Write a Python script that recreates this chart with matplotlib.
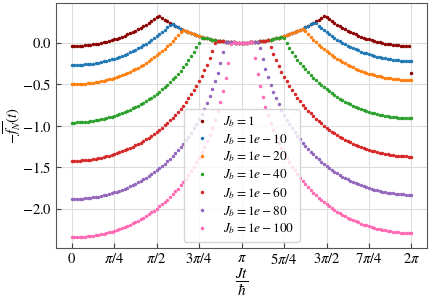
import matplotlib
matplotlib.use("Agg")
import matplotlib.pyplot as plt
import numpy as np

plt.rcParams.update({
    "font.family": ["Liberation Serif", "DejaVu Serif"],
    "mathtext.fontset": "stix",
})

# time grid: 129 samples over [0, 2pi]
t = np.arange(129) * np.pi / 64

labels = ["$J_b=1$", "$J_b=1e-10$", "$J_b=1e-20$", "$J_b=1e-40$",
          "$J_b=1e-60$", "$J_b=1e-80$", "$J_b=1e-100$"]
colors = ["darkred", "tab:blue", "tab:orange", "tab:green",
          "tab:red", "tab:purple", "hotpink"]

xtick_labels = ["$0$", r"$\pi/4$", r"$\pi/2$", r"$3\pi/4$", r"$\pi$",
                r"$5\pi/4$", r"$3\pi/2$", r"$7\pi/4$", r"$2\pi$"]
ytick_values = [0.0, -0.5, -1.0, -1.5, -2.0]

# shared descending/ascending part around t = pi (samples 32..96)
envelope = [0.347, 0.323, 0.300, 0.278, 0.257, 0.238, 0.219, 0.201, 0.185, 0.169,
            0.153, 0.139, 0.126, 0.113, 0.101, 0.090, 0.079, 0.069, 0.061, 0.053,
            0.044, 0.037, 0.030, 0.025, 0.019, 0.015, 0.011, 0.008, 0.005, 0.003,
            0.001, 0.000, 0.000, 0.000, 0.001, 0.003, 0.005, 0.008, 0.011, 0.015,
            0.019, 0.025, 0.030, 0.037, 0.044, 0.053, 0.061, 0.069, 0.079, 0.090,
            0.101, 0.113, 0.126, 0.139, 0.153, 0.169, 0.185, 0.201, 0.219, 0.238,
            0.257, 0.278, 0.300, 0.323, 0.347]

# left branches (from t = 0 up to the cusp)
jb1_left = [-0.040, -0.040, -0.039, -0.037, -0.035, -0.032, -0.029, -0.025, -0.021, -0.015,
            -0.010, -0.003, 0.004, 0.013, 0.021, 0.029, 0.039, 0.050, 0.061, 0.073,
            0.086, 0.099, 0.113, 0.129, 0.145, 0.161, 0.179, 0.198, 0.217, 0.238,
            0.260, 0.283, 0.307]
jb10_left = [-0.270, -0.270, -0.269, -0.267, -0.265, -0.262, -0.259, -0.255, -0.251, -0.245,
             -0.240, -0.233, -0.226, -0.217, -0.209, -0.201, -0.191, -0.180, -0.169, -0.157,
             -0.144, -0.131, -0.117, -0.101, -0.085, -0.069, -0.051, -0.032, -0.013, 0.008,
             0.030, 0.053, 0.077, 0.102, 0.128, 0.156, 0.185, 0.216]
jb20_left = [-0.501, -0.501, -0.500, -0.498, -0.496, -0.493, -0.490, -0.486, -0.482, -0.476,
             -0.471, -0.464, -0.457, -0.448, -0.440, -0.432, -0.422, -0.411, -0.400, -0.388,
             -0.375, -0.362, -0.348, -0.332, -0.316, -0.300, -0.282, -0.263, -0.244, -0.223,
             -0.201, -0.178, -0.154, -0.129, -0.103, -0.075, -0.046, -0.015, 0.017, 0.051,
             0.087, 0.124]
jb40_left = [-0.961, -0.961, -0.960, -0.958, -0.956, -0.953, -0.950, -0.946, -0.942, -0.936,
             -0.931, -0.924, -0.917, -0.908, -0.900, -0.892, -0.882, -0.871, -0.860, -0.848,
             -0.835, -0.822, -0.808, -0.792, -0.776, -0.760, -0.742, -0.723, -0.704, -0.683,
             -0.661, -0.638, -0.614, -0.589, -0.563, -0.535, -0.506, -0.475, -0.443, -0.409,
             -0.373, -0.336, -0.296, -0.254, -0.209, -0.162, -0.111, -0.058, 0.000, 0.061]
jb60_left = [-1.422, -1.422, -1.421, -1.419, -1.417, -1.414, -1.411, -1.407, -1.403, -1.397,
             -1.392, -1.385, -1.378, -1.369, -1.361, -1.353, -1.343, -1.332, -1.321, -1.309,
             -1.296, -1.283, -1.269, -1.253, -1.237, -1.221, -1.203, -1.184, -1.165, -1.144,
             -1.122, -1.099, -1.075, -1.050, -1.024, -0.996, -0.967, -0.936, -0.904, -0.870,
             -0.834, -0.797, -0.757, -0.715, -0.670, -0.623, -0.572, -0.519, -0.461, -0.400,
             -0.334, -0.263, -0.185, -0.100, -0.007]
jb80_left = [-1.882, -1.882, -1.881, -1.879, -1.877, -1.874, -1.871, -1.867, -1.863, -1.857,
             -1.852, -1.845, -1.838, -1.829, -1.821, -1.813, -1.803, -1.792, -1.781, -1.769,
             -1.756, -1.743, -1.729, -1.713, -1.697, -1.681, -1.663, -1.644, -1.625, -1.604,
             -1.582, -1.559, -1.535, -1.510, -1.484, -1.456, -1.427, -1.396, -1.364, -1.330,
             -1.294, -1.257, -1.217, -1.175, -1.130, -1.083, -1.032, -0.979, -0.921, -0.860,
             -0.794, -0.723, -0.645, -0.560, -0.467, -0.364, -0.248, -0.116]
jb100_left = [-2.343, -2.343, -2.342, -2.340, -2.338, -2.335, -2.332, -2.328, -2.324, -2.318,
              -2.313, -2.306, -2.299, -2.290, -2.282, -2.274, -2.264, -2.253, -2.242, -2.230,
              -2.217, -2.204, -2.190, -2.174, -2.158, -2.142, -2.124, -2.105, -2.086, -2.065,
              -2.043, -2.020, -1.996, -1.971, -1.945, -1.917, -1.888, -1.857, -1.825, -1.791,
              -1.755, -1.718, -1.678, -1.636, -1.591, -1.544, -1.493, -1.440, -1.382, -1.321,
              -1.255, -1.184, -1.106, -1.021, -0.928, -0.825, -0.709, -0.577, -0.424, -0.243,
              -0.020]

# right branches (from the cusp up to t = 2pi)
jb1_right = [0.307, 0.283, 0.260, 0.238, 0.217, 0.198, 0.179, 0.161, 0.145, 0.129,
             0.113, 0.099, 0.086, 0.073, 0.061, 0.050, 0.039, 0.029, 0.021, 0.013,
             0.004, -0.003, -0.010, -0.015, -0.021, -0.025, -0.029, -0.032, -0.035, -0.037,
             -0.039, -0.040, -0.360]
jb10_right = [0.235, 0.206, 0.178, 0.152, 0.127, 0.103, 0.080, 0.058, 0.037, 0.018,
              -0.001, -0.019, -0.035, -0.051, -0.067, -0.081, -0.094, -0.107, -0.119, -0.130,
              -0.141, -0.151, -0.159, -0.167, -0.176, -0.183, -0.190, -0.195, -0.201, -0.205,
              -0.209, -0.212, -0.215, -0.217, -0.219, -0.220, -0.220]
jb20_right = [0.138, 0.102, 0.068, 0.036, 0.005, -0.024, -0.052, -0.078, -0.103, -0.127,
              -0.150, -0.172, -0.193, -0.212, -0.231, -0.249, -0.265, -0.281, -0.297, -0.311,
              -0.324, -0.337, -0.349, -0.360, -0.371, -0.381, -0.389, -0.397, -0.406, -0.413,
              -0.420, -0.425, -0.431, -0.435, -0.439, -0.442, -0.445, -0.447, -0.449, -0.450,
              -0.450]
jb40_right = [0.051, -0.007, -0.060, -0.111, -0.158, -0.203, -0.245, -0.285, -0.322, -0.358,
              -0.392, -0.424, -0.455, -0.484, -0.512, -0.538, -0.563, -0.587, -0.610, -0.632,
              -0.653, -0.672, -0.691, -0.709, -0.725, -0.741, -0.757, -0.771, -0.784, -0.797,
              -0.809, -0.820, -0.831, -0.841, -0.849, -0.857, -0.866, -0.873, -0.880, -0.885,
              -0.891, -0.895, -0.899, -0.902, -0.905, -0.907, -0.909, -0.910, -0.910]
jb60_right = [-0.048, -0.133, -0.211, -0.282, -0.348, -0.409, -0.467, -0.520, -0.571, -0.618,
              -0.663, -0.705, -0.745, -0.782, -0.818, -0.852, -0.884, -0.915, -0.944, -0.972,
              -0.998, -1.023, -1.047, -1.070, -1.092, -1.113, -1.132, -1.151, -1.169, -1.185,
              -1.201, -1.217, -1.231, -1.244, -1.257, -1.269, -1.280, -1.291, -1.301, -1.309,
              -1.317, -1.326, -1.333, -1.340, -1.345, -1.351, -1.355, -1.359, -1.362, -1.365,
              -1.367, -1.369, -1.370, -1.370]
jb80_right = [-0.064, -0.196, -0.312, -0.415, -0.508, -0.593, -0.671, -0.742, -0.808, -0.869,
              -0.927, -0.980, -1.031, -1.078, -1.123, -1.165, -1.205, -1.242, -1.278, -1.312,
              -1.344, -1.375, -1.404, -1.432, -1.458, -1.483, -1.507, -1.530, -1.552, -1.573,
              -1.592, -1.611, -1.629, -1.645, -1.661, -1.677, -1.691, -1.704, -1.717, -1.729,
              -1.740, -1.751, -1.761, -1.769, -1.777, -1.786, -1.793, -1.800, -1.805, -1.811,
              -1.815, -1.819, -1.822, -1.825, -1.827, -1.829, -1.830, -1.830]
jb100_right = [-0.190, -0.371, -0.524, -0.656, -0.772, -0.875, -0.968, -1.053, -1.131, -1.202,
               -1.268, -1.329, -1.387, -1.440, -1.491, -1.538, -1.583, -1.625, -1.665, -1.702,
               -1.738, -1.772, -1.804, -1.835, -1.864, -1.892, -1.918, -1.943, -1.967, -1.990,
               -2.012, -2.033, -2.052, -2.071, -2.089, -2.105, -2.121, -2.137, -2.151, -2.164,
               -2.177, -2.189, -2.200, -2.211, -2.221, -2.229, -2.237, -2.246, -2.253, -2.260,
               -2.265, -2.271, -2.275, -2.279, -2.282, -2.285, -2.287, -2.289, -2.290, -2.290]

branches = [(jb1_left, jb1_right), (jb10_left, jb10_right), (jb20_left, jb20_right),
            (jb40_left, jb40_right), (jb60_left, jb60_right), (jb80_left, jb80_right),
            (jb100_left, jb100_right)]


def assemble(left, right):
    """Left branch + shared middle part + right branch."""
    mid = envelope[len(left) - 32: len(envelope) + 32 - len(right)]
    y = np.array(left + mid + right)
    assert len(y) == len(t)
    return y


fig = plt.figure(figsize=(4.31, 2.99), dpi=100)
ax = fig.add_axes([0.130, 0.170, 0.861, 0.819])

for (left, right), lab, c in zip(branches, labels, colors):
    ax.plot(t, assemble(left, right), "o", ms=2.5, mew=0, color=c, label=lab)

ax.set_xlim(-0.29, 2 * np.pi + 0.29)
ax.set_ylim(-2.473, 0.474)
ax.set_xticks(np.arange(9) * np.pi / 4)
ax.set_xticklabels(xtick_labels)
ax.set_yticks(ytick_values)
ax.set_yticklabels([f"${v:.1f}$" for v in ytick_values])
ax.tick_params(direction="in", labelsize=10.5, length=3.5, color="#444444", pad=3)
ax.grid(True, color="#dddddd", lw=0.8)
ax.set_axisbelow(True)
for sp in ax.spines.values():
    sp.set_color("#555555")

ax.set_xlabel(r"$\dfrac{Jt}{\hbar}$", fontsize=11, labelpad=0)
ax.set_ylabel(r"$-\overline{f_N}(t)$", fontsize=10.5)
ax.yaxis.set_label_coords(-0.085, 0.5)
ax.legend(loc="lower center", fontsize=9.5, labelspacing=0.22, handletextpad=0.6)

fig.savefig("out.png", dpi=100)
